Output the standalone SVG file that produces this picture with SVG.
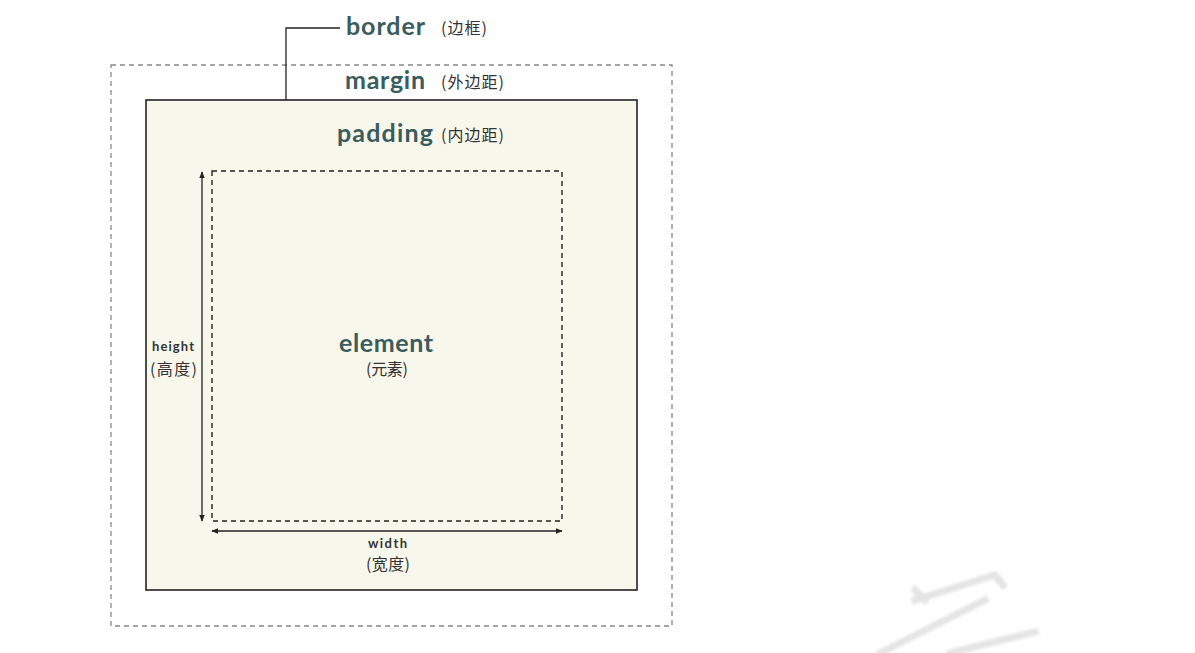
<svg xmlns="http://www.w3.org/2000/svg" width="1195" height="653" viewBox="0 0 1195 653">
<style>
.big{font-family:Lato,"Noto Sans",sans-serif;font-weight:bold;fill:#3b5c5d;font-size:25px}
.cjk{font-family:"Noto Sans CJK SC",sans-serif;fill:#333;font-size:16px}
.sm{font-family:Lato,"Noto Sans",sans-serif;font-weight:bold;fill:#333;font-size:13px}
</style>
<defs>
<marker id="ah" viewBox="0 0 10 10" refX="9" refY="5" markerWidth="7" markerHeight="7" orient="auto-start-reverse" markerUnits="userSpaceOnUse">
<path d="M0,1 L10,5 L0,9 z" fill="#222"/>
</marker>
<filter id="blur"><feGaussianBlur stdDeviation="1.5"/></filter>
</defs>
<rect width="1195" height="653" fill="#fff"/>
<g id="margin">
<rect x="111" y="65" width="561" height="561" fill="none" stroke="#888" stroke-width="1.3" stroke-dasharray="5,4"/>
<text class="big" x="345" y="89" textLength="80">margin</text>
<text class="cjk" x="441" y="88" textLength="63">(外边距)</text>
</g>
<g id="border">
<rect x="146" y="100" width="491" height="490" fill="#f8f7ec" stroke="#222" stroke-width="1.6"/>
<text class="big" x="346" y="35" textLength="79">border</text>
<text class="cjk" x="441" y="34" textLength="46">(边框)</text>
</g>
<g id="padding">
<text class="big" x="337" y="142" textLength="96">padding</text>
<text class="cjk" x="441" y="141" textLength="63">(内边距)</text>
</g>
<g id="element">
<rect x="212" y="171" width="350" height="350" fill="none" stroke="#222" stroke-width="1.4" stroke-dasharray="5,4"/>
<text class="big" x="339" y="352" textLength="94">element</text>
<text class="cjk" x="366" y="375" textLength="42">(元素)</text>
</g>
<g id="height">
<text class="sm" x="152" y="351" textLength="42">height</text>
<text class="cjk" x="150" y="375" textLength="47">(高度)</text>
</g>
<g id="width">
<text class="sm" x="368" y="548" textLength="39">width</text>
<text class="cjk" x="366" y="570" textLength="44">(宽度)</text>
</g>
<g id="connectors" fill="none" stroke="#222" stroke-width="1.3">
<polyline points="286,100 286,28 340,28"/>
<line x1="202" y1="172" x2="202" y2="521" marker-start="url(#ah)" marker-end="url(#ah)"/>
<line x1="212" y1="531" x2="562" y2="531" marker-start="url(#ah)" marker-end="url(#ah)"/>
</g>
<g id="watermark" fill="none" stroke="#e4e4e4" stroke-width="7" stroke-linecap="square" filter="url(#blur)">
<polyline points="915,600 995,575 1003,585"/>
<line x1="915" y1="590" x2="925" y2="600"/>
<polyline points="880,653 985,600"/>
<polyline points="950,653 1035,632"/>
</g>
</svg>
